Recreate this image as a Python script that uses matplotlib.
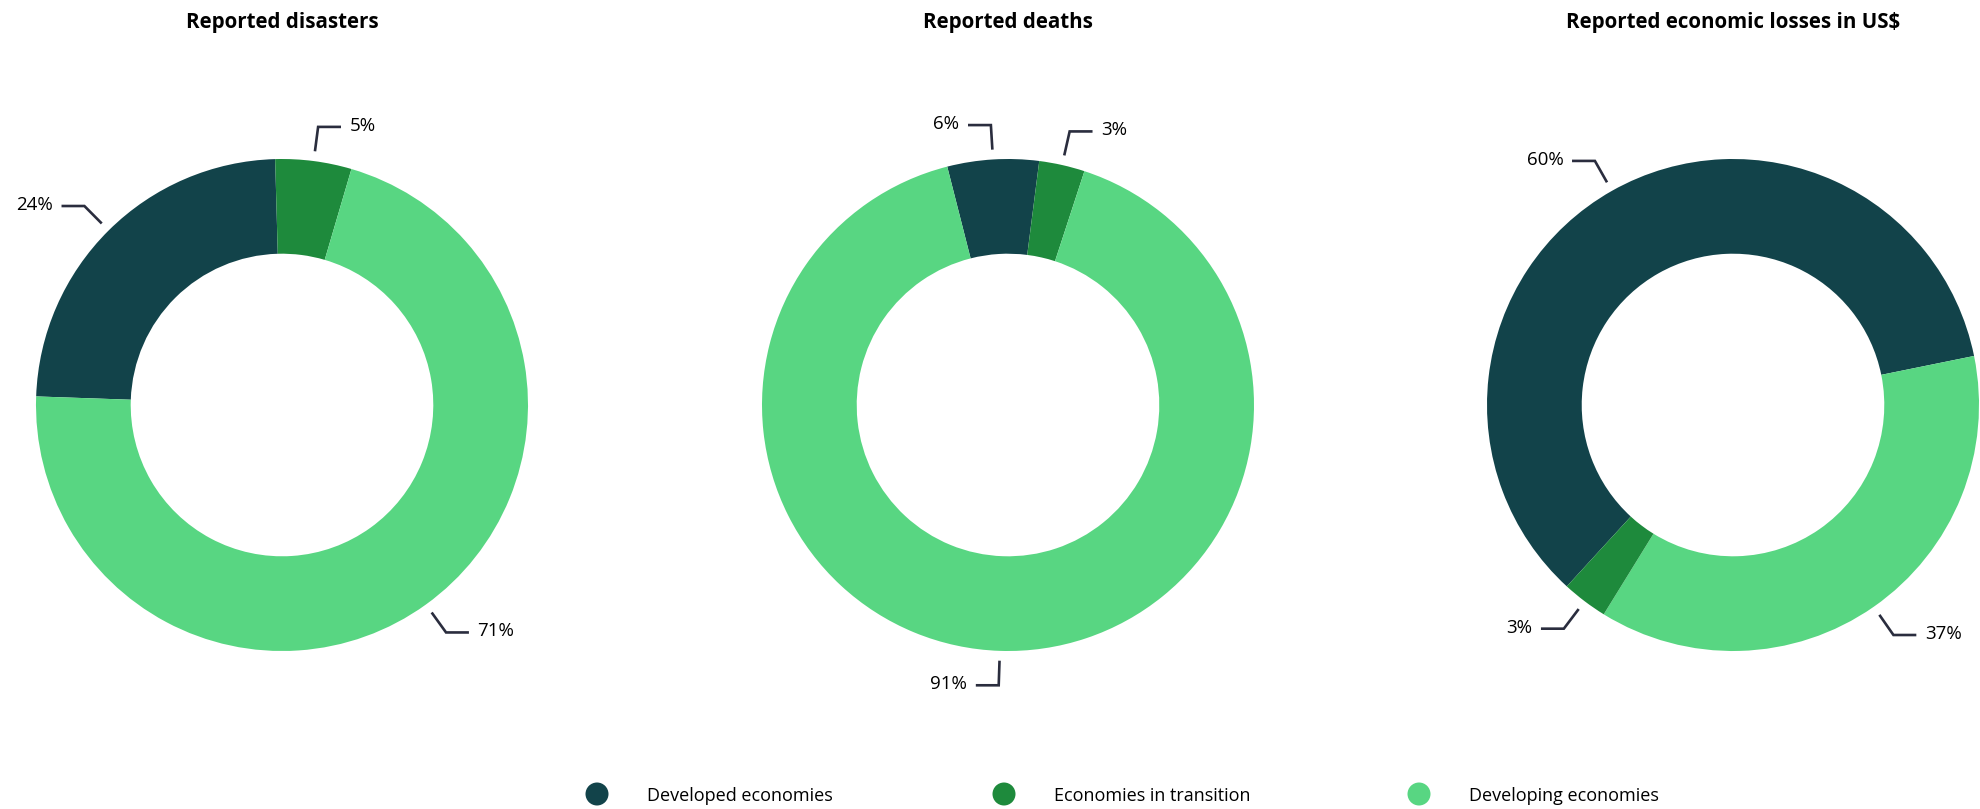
import numpy as np
import matplotlib
matplotlib.use("Agg")
import matplotlib.pyplot as plt
from matplotlib.patches import Circle

# ---- data ----
categories = ["Developed economies", "Economies in transition", "Developing economies"]
colors = ["#12434A", "#1E8A3C", "#58D682"]
titles = ["Reported disasters", "Reported deaths", "Reported economic losses in US$"]
disasters = [24, 5, 71]
deaths = [6, 3, 91]
losses = [60, 3, 37]
# clockwise drawing order of the categories in each donut (indices into categories)
orders = [[0, 1, 2], [0, 1, 2], [0, 2, 1]]
# start angle (degrees, matplotlib convention) for each donut
start_angles = [178, 104.3, 227.5]

series = [disasters, deaths, losses]

plt.rcParams["font.family"] = ["Open Sans", "DejaVu Sans"]

W, H = 1980, 809
fig = plt.figure(figsize=(W / 100, H / 100), dpi=100)
ax = fig.add_axes([0, 0, 1, 1])

centers_x = [282, 1008, 1733]
cy = H - 405
R = 246
ring = 0.385 * R
line_col = "#2A2D3E"

for i in range(3):
    vals = [series[i][k] for k in orders[i]]
    cols = [colors[k] for k in orders[i]]
    wedges, _ = ax.pie(vals, colors=cols, startangle=start_angles[i], counterclock=False,
                       center=(centers_x[i], cy), radius=R,
                       wedgeprops=dict(width=ring, linewidth=0))
    ax.text(centers_x[i], H - 20, titles[i], ha="center", va="center_baseline",
            fontsize=14.8, fontweight="bold", color="#000000")
    for w, v in zip(wedges, vals):
        mid = np.deg2rad((w.theta1 + w.theta2) / 2)
        c, s = np.cos(mid), np.sin(mid)
        x0, y0 = centers_x[i] + 1.04 * R * c, cy + 1.04 * R * s
        x1, y1 = centers_x[i] + 1.14 * R * c, cy + 1.14 * R * s
        side = 1 if c >= 0 else -1
        x2 = x1 + side * 0.093 * R
        ax.plot([x0, x1, x2], [y0, y1, y1], color=line_col, lw=1.9,
                solid_joinstyle="miter", solid_capstyle="butt")
        ax.text(x2 + side * 0.035 * R, y1 + 3, f"{v}%", ha="left" if side > 0 else "right",
                va="center_baseline", fontsize=13.5, color="#000000")

# legend
leg_x = [597, 1004, 1419]
leg_y = 15
for k, cat in enumerate(categories):
    ax.add_patch(Circle((leg_x[k], leg_y), 11.5, color=colors[k], lw=0))
    ax.text(leg_x[k] + 50, leg_y, cat, ha="left", va="center_baseline", fontsize=13,
            color="#000000")

ax.set_xlim(0, W)
ax.set_ylim(0, H)
ax.set_aspect("equal")
ax.axis("off")

fig.savefig("out.png", dpi=100, facecolor="white")
